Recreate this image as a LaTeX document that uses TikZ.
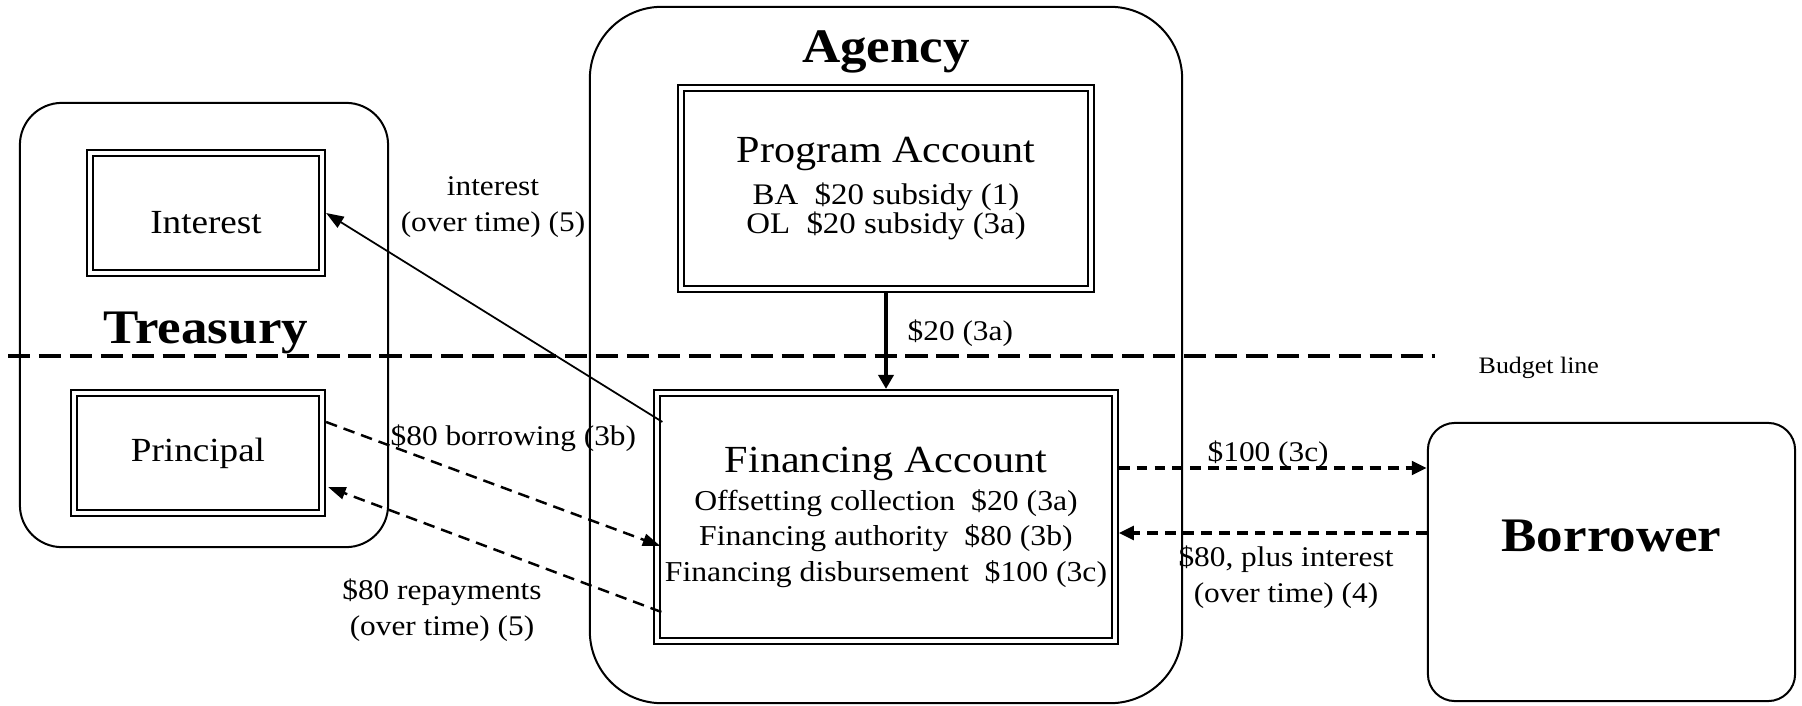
\documentclass[tikz,border=0pt]{standalone}
\usepackage{fontspec}
\setmainfont{Liberation Serif}[FakeStretch=1.1]
\usetikzlibrary{arrows.meta, calc}

\begin{document}
\begin{tikzpicture}[
  x=0.01cm, y=-0.01cm,
  entity/.style={rectangle, draw, line width=0.57pt, rounded corners=#1},
  account/.style={rectangle, draw, line width=0.57pt, double, double distance=1.14pt, outer sep=1.14pt, inner sep=0pt, align=center},
  heading/.style={font=\bfseries\fontsize{13.7}{16}\selectfont, inner sep=0pt},
  flow/.style={font=\fontsize{8.1}{10.3}\selectfont, inner sep=0pt, align=center},
  outflow/.style={-{Triangle[length=5pt, width=3.6pt]}, line width=0.5pt},
  transfer/.style={-{Triangle[length=4pt, width=4.3pt]}, line width=1.1pt},
  treasuryflow/.style={-{Triangle[length=5pt, width=3.5pt]}, line width=0.7pt, dash pattern=on 3.3pt off 2pt},
  loanflow/.style={-{Triangle[length=4.3pt, width=3.8pt]}, line width=1.1pt, dash pattern=on 3.1pt off 2pt},
  budget/.style={line width=1.14pt, dash pattern=on 6.3pt off 2.5pt}
]
\useasboundingbox (0,0) rectangle (1802,706);

\node[entity=0.42cm, minimum width=3.68cm, minimum height=4.44cm] (treasury) at (204,325) {};
\node[account, minimum width=2.32cm, minimum height=1.2cm, text height=0.4cm, text depth=0pt, font=\fontsize{9.6}{11}\selectfont] (interest) at (206,213) {Interest};
\node[account, minimum width=2.48cm, minimum height=1.2cm, font=\fontsize{9.6}{11}\selectfont] (principal) at (198,453) {Principal};
\node[heading, anchor=base] (treasurytitle) at (206,343) {Treasury};

\node[entity=0.72cm, minimum width=5.92cm, minimum height=6.96cm] (agency) at (886,355) {};
\node[heading, anchor=base] (agencytitle) at (886,63) {Agency};
\node[account, minimum width=4.10cm, minimum height=2.01cm, font=\fontsize{8.5}{8.2}\selectfont] (program) at (886,188.5)
  {{\fontsize{10.9}{10.9}\selectfont Program Account}\\[2.3pt] BA\ \ \$20 subsidy (1)\\ OL\ \ \$20 subsidy (3a)};
\node[account, minimum width=4.57cm, minimum height=2.48cm, font=\fontsize{8.2}{10.1}\selectfont] (financing) at (886,517)
  {{\fontsize{10.9}{10.9}\selectfont Financing Account}\\[0.7pt] Offsetting collection\ \ \$20 (3a)\\ Financing authority\ \ \$80 (3b)\\ Financing disbursement\ \ \$100 (3c)};

\node[entity=0.27cm, heading, minimum width=3.67cm, minimum height=2.78cm, text height=0.5cm, text depth=0.7cm] (borrower) at (1611.5,562) {Borrower};

\draw[budget] (8,356) -- (1435,356);
\node[anchor=base west, inner sep=0pt, font=\fontsize{6.7}{8}\selectfont] (budgetlabel) at (1478,373) {Budget line};

\draw[outflow] ($(financing.north west)+(9,33)$) -- (interest.east);
\draw[transfer] (program.south) -- (financing.north);
\draw[treasuryflow] ($(principal.east)+(0,-31)$) -- ($(financing.west)+(7,29)$);
\draw[treasuryflow] ($(financing.west)+(8,95)$) -- ($(principal.east)+(2,34)$);
\coordinate (out100) at ($(financing.east)+(0,-49)$);
\coordinate (in80) at ($(financing.east)+(0,16)$);
\draw[loanflow] (out100) -- (out100 -| borrower.west);
\draw[loanflow] (in80 -| borrower.west) -- (in80);

\node[flow] (labint) at (493,207) {interest\\(over time) (5)};
\node[flow, anchor=base west] (lab3a) at (907,340) {\$20 (3a)};
\node[flow, anchor=base west] (lab3b) at (390,445) {\$80 borrowing (3b)};
\node[flow] (labrepay) at (442,610) {\$80 repayments\\(over time) (5)};
\node[flow, anchor=base west] (lab3c) at (1207,461) {\$100 (3c)};
\node[flow] (labplus) at (1286,577) {\$80, plus interest\\(over time) (4)};
\end{tikzpicture}
\end{document}
